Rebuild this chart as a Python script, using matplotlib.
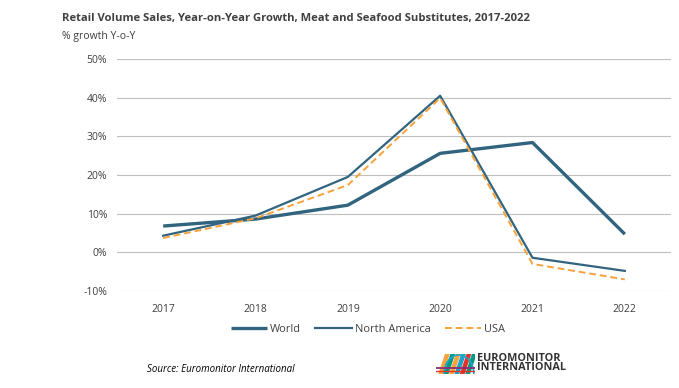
import numpy as np
import matplotlib.pyplot as plt
from matplotlib.ticker import FuncFormatter
from matplotlib.patches import Polygon

plt.rcParams['font.family'] = ['Open Sans', 'DejaVu Sans']

years = ['2017', '2018', '2019', '2020', '2021', '2022']
world = [6.8, 8.6, 12.2, 25.6, 28.4, 4.7]
north_america = [4.3, 9.5, 19.5, 40.5, -1.4, -4.8]
usa = [3.7, 8.8, 17.4, 39.9, -3.0, -7.0]

blue = '#31647E'
orange = '#F7A23B'
grey_txt = '#404040'


def main():
    fig = plt.figure(figsize=(6.79, 3.88), dpi=100)
    ax = fig.add_axes([117 / 679, 1 - 291 / 388, 554 / 679, 232 / 388])

    x = np.arange(len(years))
    ax.plot(x, world, color=blue, lw=2.4, label='World', solid_capstyle='butt')
    ax.plot(x, north_america, color=blue, lw=1.6, label='North America')
    ax.plot(x, usa, color=orange, lw=1.4, ls=(0, (3.5, 2)), label='USA')

    ax.set_xlim(-0.5, len(years) - 0.5)
    ax.set_ylim(-10, 50)
    ax.set_yticks(np.arange(-10, 51, 10))
    ax.yaxis.set_major_formatter(FuncFormatter(lambda v, p: f'{v:.0f}%'))
    ax.set_xticks(x)
    ax.set_xticklabels(years)
    ax.tick_params(length=0, labelsize=7.5, labelcolor=grey_txt)
    ax.tick_params(axis='y', pad=7)
    ax.tick_params(axis='x', pad=9)
    ax.grid(axis='y', color='#BFBFBF', lw=0.8)
    ax.set_axisbelow(True)
    for s in ax.spines.values():
        s.set_visible(False)

    fig.text(62 / 679, 1 - 18 / 388, 'Retail Volume Sales, Year-on-Year Growth, Meat and Seafood Substitutes, 2017-2022',
             fontsize=8.1, fontweight='bold', color=grey_txt, va='center')
    fig.text(62 / 679, 1 - 37 / 388, '% growth Y-o-Y', fontsize=7.5, color=grey_txt, va='center')

    fig.legend(loc='center', bbox_to_anchor=(368 / 679, 1 - 329 / 388), ncol=3, frameon=False,
               fontsize=7.9, labelcolor=grey_txt, handlelength=3.3, handletextpad=0.3, columnspacing=1.3)

    fig.text(147 / 679, 1 - 369 / 388, 'Source: Euromonitor International', fontsize=7,
             fontstyle='italic', color='#000000', va='center')

    # rough logo: slanted colour stripes under an arch
    lax = fig.add_axes([436 / 679, 1 - 374 / 388, 39 / 679, 20 / 388])
    cols = ['#F7A23B', '#009A84', '#F7A23B', '#1FA3C8', '#E4322B', '#009A84']
    for i, c in enumerate(cols):
        x0 = 0.2 + i * 0.47
        lax.add_patch(Polygon([[x0, 0], [x0 + 0.42, 0], [x0 + 1.0, 1], [x0 + 0.58, 1]],
                              closed=True, color=c, lw=0))
    t = np.linspace(0, np.pi, 40)
    lax.plot(2.0 + 1.3 * np.cos(t), 0.95 * np.sin(t), color='#1FA3C8', lw=1.2)
    lax.plot([0, 3.4], [0.3, 0.3], color='#8E2C72', lw=1.3)
    lax.plot([0, 3.4], [0.15, 0.15], color='#E4322B', lw=1.0)
    lax.set_xlim(0, 3.4)
    lax.set_ylim(0, 1)
    lax.axis('off')
    fig.text(477 / 679, 1 - 363 / 388, 'EUROMONITOR\nINTERNATIONAL', fontsize=7.8, fontweight='bold',
             color='#333333', va='center', linespacing=0.85)

    fig.savefig('out.png', dpi=100)


if __name__ == '__main__':
    main()
